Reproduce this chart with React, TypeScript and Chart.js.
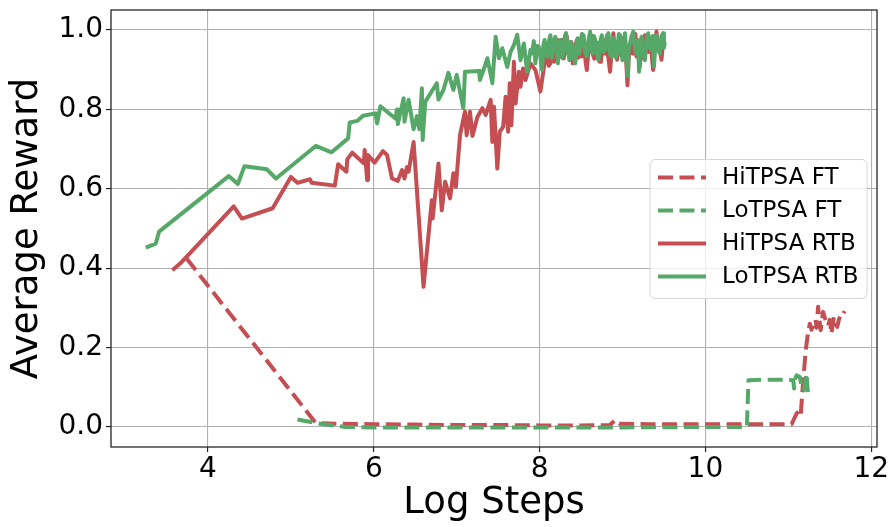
import React, { useEffect, useRef } from "react";
import { Chart, registerables } from "chart.js";

Chart.register(...registerables);

const RED = "#C44E52";
const GREEN = "#55A868";
const FONT = "'DejaVu Sans', sans-serif";

const xTicks = [4, 6, 8, 10, 12];
const yTicks = [0, 0.2, 0.4, 0.6, 0.8, 1.0];
const legendLabels = ["HiTPSA FT", "LoTPSA FT", "HiTPSA RTB", "LoTPSA RTB"];

const hiFTx = [3.74, 5.3, 5.6, 6.0, 6.5, 7.0, 7.5, 8.0, 8.5, 8.85, 8.91, 8.96, 9.3, 9.8, 10.3, 10.8, 11.04, 11.1, 11.13, 11.15, 11.18, 11.21, 11.24, 11.26, 11.28, 11.3, 11.33, 11.34, 11.36, 11.37, 11.39, 11.4, 11.42, 11.44, 11.46, 11.48, 11.5, 11.52, 11.55, 11.57, 11.59, 11.61, 11.63, 11.65, 11.68];
const hiFTy = [0.425, 0.01, 0.008, 0.007, 0.006, 0.005, 0.005, 0.004, 0.004, 0.005, 0.017, 0.008, 0.007, 0.007, 0.007, 0.007, 0.007, 0.034, 0.04, 0.03, 0.118, 0.193, 0.24, 0.26, 0.245, 0.256, 0.27, 0.25, 0.303, 0.28, 0.244, 0.26, 0.29, 0.275, 0.265, 0.255, 0.27, 0.235, 0.277, 0.265, 0.252, 0.27, 0.282, 0.28, 0.292];

const loFTx = [5.08, 5.35, 5.66, 6.0, 7.0, 8.0, 9.0, 10.0, 10.5, 10.52, 10.7, 10.9, 11.06, 11.07, 11.08, 11.1, 11.14, 11.16, 11.19, 11.22, 11.24];
const loFTy = [0.019, 0.008, 0.0, -0.001, -0.001, -0.001, -0.001, 0.0, 0.0, 0.118, 0.119, 0.119, 0.118, 0.097, 0.12, 0.13, 0.126, 0.1, 0.093, 0.135, 0.076];

const hiRTBx = [3.57, 3.67, 4.31, 4.41, 4.78, 5.0, 5.08, 5.23, 5.25, 5.53, 5.57, 5.67, 5.68, 5.74, 5.88, 5.89, 5.92, 5.93, 6.01, 6.11, 6.16, 6.22, 6.29, 6.34, 6.37, 6.4, 6.42, 6.48, 6.6, 6.7, 6.71, 6.78, 6.82, 6.86, 6.92, 6.96, 6.99, 7.04, 7.1, 7.12, 7.16, 7.19, 7.25, 7.31, 7.35, 7.41, 7.43, 7.45, 7.49, 7.52, 7.56, 7.59, 7.62, 7.64, 7.66, 7.69, 7.71, 7.75, 7.77, 7.8, 7.83, 7.89, 7.95, 8.01,
  8.05, 8.07, 8.09, 8.11, 8.13, 8.145, 8.16, 8.175, 8.19, 8.21, 8.22, 8.24, 8.25, 8.27, 8.29, 8.31, 8.33, 8.345, 8.36, 8.38, 8.4, 8.42, 8.45, 8.465, 8.48, 8.495, 8.51, 8.525, 8.54, 8.555, 8.57, 8.59, 8.62, 8.64, 8.66, 8.68, 8.71, 8.725, 8.74, 8.755, 8.77, 8.79, 8.81, 8.83, 8.85, 8.87, 8.89, 8.905, 8.92, 8.935, 8.95, 8.97, 8.99, 9.01, 9.025, 9.04, 9.06, 9.08, 9.11, 9.125, 9.14, 9.155, 9.17, 9.19, 9.21, 9.225, 9.24, 9.255, 9.27, 9.29, 9.31, 9.325, 9.34, 9.355, 9.37, 9.39, 9.41, 9.43, 9.45, 9.47, 9.49, 9.5];
const hiRTBy = [0.395, 0.413, 0.556, 0.525, 0.551, 0.63, 0.615, 0.624, 0.615, 0.608, 0.662, 0.643, 0.674, 0.691, 0.664, 0.698, 0.622, 0.685, 0.666, 0.695, 0.685, 0.626, 0.62, 0.647, 0.626, 0.655, 0.643, 0.718, 0.353, 0.571, 0.525, 0.664, 0.546, 0.618, 0.576, 0.639, 0.605, 0.735, 0.794, 0.735, 0.794, 0.733, 0.781, 0.803, 0.786, 0.824, 0.718, 0.807, 0.651, 0.744, 0.756, 0.832, 0.744, 0.866, 0.76, 0.92, 0.815, 0.895, 0.857, 0.903, 0.874, 0.916, 0.899, 0.845,
  0.903, 0.93, 0.94, 0.91, 0.916, 0.955, 0.95, 0.92, 0.941, 0.975, 0.97, 0.935, 0.962, 0.975, 0.928, 0.96, 0.983, 0.94, 0.95, 0.97, 0.916, 0.95, 0.975, 0.93, 0.955, 0.975, 0.933, 0.96, 0.965, 0.92, 0.899, 0.95, 0.987, 0.94, 0.928, 0.97, 0.95, 0.92, 0.92, 0.96, 0.975, 0.94, 0.955, 0.93, 0.895, 0.95, 0.992, 0.95, 0.96, 0.925, 0.945, 0.975, 0.95, 0.979, 0.93, 0.94, 0.861, 0.95, 0.97, 0.94, 0.955, 0.99, 0.933, 0.95, 0.908, 0.96, 0.97, 0.93, 0.987, 0.95, 0.945, 0.975, 0.975, 0.93, 0.899, 0.96, 0.996, 0.95, 0.954, 0.925, 0.97, 0.966];

const loRTBx = [3.25, 3.37, 3.41, 4.25, 4.36, 4.44, 4.71, 4.82, 5.3, 5.49, 5.69, 5.71, 5.8, 5.87, 6.02, 6.04, 6.08, 6.26, 6.28, 6.29, 6.36, 6.37, 6.42, 6.48, 6.52, 6.55, 6.58, 6.59, 6.62, 6.76, 6.78, 6.84, 6.9, 6.96, 7.0, 7.08, 7.1, 7.27, 7.28, 7.33, 7.37, 7.43, 7.47, 7.51, 7.55, 7.61, 7.65, 7.69, 7.73, 7.77, 7.81, 7.85,
  7.89, 7.91, 7.93, 7.95, 7.97, 7.99, 8.01, 8.03, 8.045, 8.06, 8.075, 8.09, 8.11, 8.13, 8.145, 8.16, 8.175, 8.19, 8.205, 8.22, 8.235, 8.25, 8.27, 8.29, 8.305, 8.32, 8.34, 8.36, 8.375, 8.39, 8.41, 8.43, 8.445, 8.46, 8.475, 8.49, 8.51, 8.53, 8.55, 8.57, 8.59, 8.61, 8.625, 8.64, 8.655, 8.67, 8.69, 8.71, 8.73, 8.75, 8.77, 8.79, 8.81, 8.83, 8.85, 8.87, 8.885, 8.9, 8.92, 8.94, 8.955, 8.97, 8.985, 9.0, 9.015, 9.03, 9.045, 9.06, 9.075, 9.09, 9.11, 9.13, 9.15, 9.17, 9.185, 9.2, 9.215, 9.23, 9.25, 9.27, 9.29, 9.31, 9.33, 9.35, 9.365, 9.38, 9.395, 9.41, 9.43, 9.45, 9.47, 9.49, 9.5, 9.51];
const loRTBy = [0.452, 0.462, 0.492, 0.632, 0.612, 0.657, 0.649, 0.626, 0.708, 0.692, 0.727, 0.767, 0.771, 0.784, 0.79, 0.765, 0.808, 0.777, 0.8, 0.763, 0.828, 0.769, 0.824, 0.75, 0.783, 0.75, 0.853, 0.723, 0.819, 0.866, 0.825, 0.849, 0.892, 0.849, 0.887, 0.803, 0.895, 0.897, 0.874, 0.903, 0.929, 0.866, 0.983, 0.929, 0.954, 0.907, 0.945, 0.962, 0.988, 0.924, 0.966, 0.895,
  0.95, 0.941, 0.972, 0.916, 0.96, 0.958, 0.93, 0.899, 0.96, 0.975, 0.94, 0.933, 0.97, 0.987, 0.93, 0.945, 0.975, 0.983, 0.95, 0.916, 0.96, 0.975, 0.93, 0.941, 0.985, 0.992, 0.95, 0.924, 0.97, 0.966, 0.935, 0.916, 0.96, 0.979, 0.94, 0.95, 0.99, 0.987, 0.945, 0.933, 0.975, 0.996, 0.95, 0.941, 0.985, 0.975, 0.94, 0.924, 0.97, 0.987, 0.945, 0.95, 0.985, 0.992, 0.94, 0.933, 0.98, 0.975, 0.93, 0.945, 0.99, 0.987, 0.95, 0.924, 0.97, 0.992, 0.94, 0.885, 0.95, 0.966, 0.985, 0.996, 0.95, 0.941, 0.975, 0.895, 0.96, 0.983, 0.945, 0.924, 0.975, 0.992, 0.955, 0.95, 0.985, 0.908, 0.96, 0.987, 0.95, 0.941, 0.985, 0.992, 0.955, 0.97];

const X_MIN = 2.83;
const X_MAX = 12.07;
const Y_MIN = -0.0504;
const Y_MAX = 1.0504;

const pts = (xs: number[], ys: number[]) => xs.map((x, i) => ({ x, y: ys[i] }));

const DASH = [15, 6.5];
const LW = 4;

const frameAndLegend = {
  id: "frameAndLegend",
  afterDatasetsDraw(chart: any) {
    const { ctx, chartArea: a } = chart;
    ctx.save();
    ctx.strokeStyle = "#262626";
    ctx.lineWidth = 1.3;
    ctx.strokeRect(a.left, a.top, a.right - a.left, a.bottom - a.top);
    ctx.restore();
  },
  afterDraw(chart: any) {
    const { ctx } = chart;
    const bx = 650, by = 159.5, bw = 217, bh = 139, r = 5;
    ctx.save();
    ctx.beginPath();
    ctx.moveTo(bx + r, by);
    ctx.arcTo(bx + bw, by, bx + bw, by + bh, r);
    ctx.arcTo(bx + bw, by + bh, bx, by + bh, r);
    ctx.arcTo(bx, by + bh, bx, by, r);
    ctx.arcTo(bx, by, bx + bw, by, r);
    ctx.closePath();
    ctx.fillStyle = "rgba(255,255,255,0.8)";
    ctx.fill();
    ctx.strokeStyle = "#d6d6d6";
    ctx.lineWidth = 1;
    ctx.stroke();
    const colors = [RED, GREEN, RED, GREEN];
    const dashed = [true, true, false, false];
    const rowY = [177.5, 210.5, 243.5, 276.5];
    ctx.font = `23px ${FONT}`;
    ctx.textBaseline = "middle";
    for (let i = 0; i < 4; i++) {
      ctx.beginPath();
      ctx.strokeStyle = colors[i];
      ctx.lineWidth = LW;
      ctx.lineCap = "butt";
      ctx.setLineDash(dashed[i] ? DASH : []);
      ctx.moveTo(658, rowY[i]);
      ctx.lineTo(706, rowY[i]);
      ctx.stroke();
      ctx.setLineDash([]);
      ctx.fillStyle = "#000";
      ctx.fillText(legendLabels[i], 722, rowY[i] + 1);
    }
    ctx.restore();
  },
};

export default function App() {
  const ref = useRef<HTMLCanvasElement>(null);
  useEffect(() => {
    if (!ref.current) return;
    const common = {
      pointRadius: 0,
      pointHoverRadius: 0,
      borderWidth: LW,
      tension: 0,
      fill: false,
      borderJoinStyle: "round" as const,
    };
    const chart = new Chart(ref.current, {
      type: "line",
      data: {
        datasets: [
          { ...common, label: legendLabels[0], data: pts(hiFTx, hiFTy), borderColor: RED, borderDash: DASH, order: 4 },
          { ...common, label: legendLabels[1], data: pts(loFTx, loFTy), borderColor: GREEN, borderDash: DASH, order: 3 },
          { ...common, label: legendLabels[2], data: pts(hiRTBx, hiRTBy), borderColor: RED, order: 2 },
          { ...common, label: legendLabels[3], data: pts(loRTBx, loRTBy), borderColor: GREEN, order: 1 },
        ],
      },
      options: {
        responsive: false,
        animation: false,
        events: [],
        layout: { padding: { left: 0, right: 15, top: 10, bottom: 0 } },
        plugins: { legend: { display: false }, tooltip: { enabled: false } },
        scales: {
          x: {
            type: "linear",
            min: X_MIN,
            max: X_MAX,
            afterBuildTicks: (axis: any) => {
              axis.ticks = xTicks.map((v) => ({ value: v }));
            },
            afterFit: (s: any) => {
              s.height = 80;
              s.paddingLeft = 0;
              s.paddingRight = 0;
            },
            grid: { color: "#b0b0b0", lineWidth: 1.1, tickLength: 5, tickColor: "#262626", tickWidth: 1.2 },
            border: { display: false },
            ticks: {
              color: "#000",
              font: { family: FONT, size: 28 },
              padding: 1,
              maxRotation: 0,
              autoSkip: false,
              callback: (v: any) => String(v),
            },
            title: {
              display: true,
              text: "Log Steps",
              color: "#000",
              font: { family: FONT, size: 37 },
              padding: { top: 0, bottom: 1 },
            },
          },
          y: {
            type: "linear",
            min: Y_MIN,
            max: Y_MAX,
            afterBuildTicks: (axis: any) => {
              axis.ticks = yTicks.map((v) => ({ value: v }));
            },
            afterFit: (s: any) => {
              s.width = 111;
              s.paddingTop = 0;
              s.paddingBottom = 0;
            },
            grid: { color: "#b0b0b0", lineWidth: 1.1, tickLength: 5, tickColor: "#262626", tickWidth: 1.2 },
            border: { display: false },
            ticks: {
              color: "#000",
              font: { family: FONT, size: 28 },
              padding: 3,
              autoSkip: false,
              callback: (v: any) => Number(v).toFixed(1),
            },
            title: {
              display: true,
              text: "Average Reward",
              color: "#000",
              font: { family: FONT, size: 37 },
              padding: { top: 5, bottom: 0 },
            },
          },
        },
      },
      plugins: [frameAndLegend],
    });
    return () => chart.destroy();
  }, []);
  return (
    <div style={{ position: "fixed", left: 0, top: 0, width: 892, height: 527, background: "#fff" }}>
      <canvas ref={ref} width={892} height={527} style={{ display: "block" }} />
    </div>
  );
}
